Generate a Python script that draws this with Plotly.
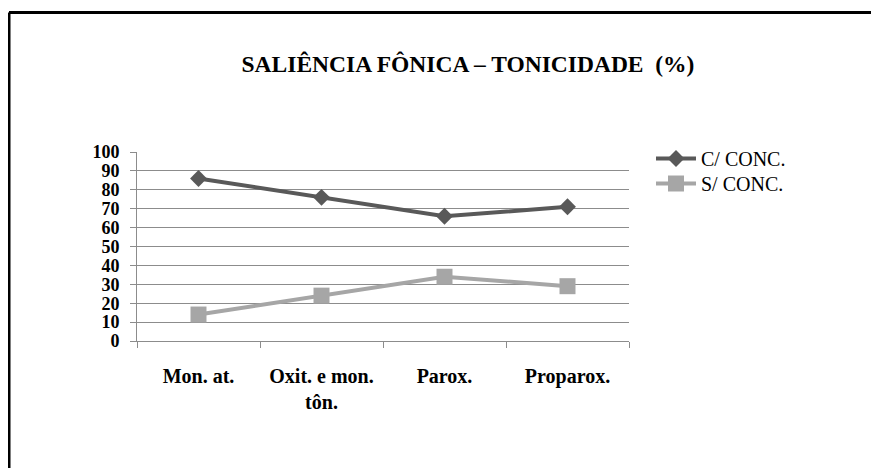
import plotly.graph_objects as go

categories = ["Mon. at.", "Oxit. e mon.<br>tôn.", "Parox.", "Proparox."]
com_conc = [86, 76, 66, 71]
sem_conc = [14, 24, 34, 29]
y_ticks = list(range(0, 101, 10))

serif = "Liberation Serif, Times New Roman, serif"

fig = go.Figure()

fig.add_trace(
    go.Scatter(
        x=categories,
        y=com_conc,
        mode="lines+markers",
        name="C/ CONC.",
        line=dict(color="#595959", width=4),
        marker=dict(symbol="diamond", size=13, color="#595959"),
        legend="legend",
    )
)

fig.add_trace(
    go.Scatter(
        x=categories,
        y=sem_conc,
        mode="lines+markers",
        name="S/ CONC.",
        line=dict(color="#a6a6a6", width=4),
        marker=dict(symbol="square", size=16, color="#a6a6a6"),
        legend="legend2",
    )
)

# page body has an 8px margin, so positions below are reference pixels - 8
W, H = 879, 468
L, R, T, B = 129, 621, 144, 333


def px(x):
    return (x - L) / (R - L)


def py(y):
    return (B - y) / (B - T)


def legend_box(top):
    return dict(
        x=px(643),
        y=py(top),
        xanchor="left",
        yanchor="top",
        font=dict(family=serif, size=20, color="black"),
        bgcolor="rgba(0,0,0,0)",
        itemwidth=40,
    )


fig.update_layout(
    width=W,
    height=H,
    margin=dict(l=L, r=W - R, t=T, b=H - B),
    paper_bgcolor="white",
    plot_bgcolor="white",
    font=dict(family=serif, color="black"),
    title=dict(
        text="<b>SALIÊNCIA FÔNICA – TONICIDADE  (%)</b>",
        font=dict(family=serif, size=23.5, color="black"),
        x=460 / W,
        xanchor="center",
        xref="container",
        y=1 - 56 / H,
        yanchor="middle",
        yref="container",
    ),
    legend=legend_box(131),
    legend2=legend_box(156),
    showlegend=True,
    xaxis=dict(
        type="category",
        range=[-0.5, 3.5],
        showgrid=False,
        showline=True,
        linecolor="#8c8c8c",
        linewidth=1,
        ticks="outside",
        tickson="boundaries",
        ticklen=6,
        tickcolor="#8c8c8c",
        ticklabelstandoff=17,
        tickfont=dict(family=serif, size=20, color="black", weight="bold"),
    ),
    yaxis=dict(
        range=[0, 100],
        tickvals=y_ticks,
        showgrid=True,
        gridcolor="#8c8c8c",
        gridwidth=1,
        showline=True,
        linecolor="#8c8c8c",
        linewidth=1,
        ticks="outside",
        ticklen=6,
        tickcolor="#8c8c8c",
        ticklabelstandoff=7,
        zeroline=False,
        tickfont=dict(family=serif, size=18, color="black", weight="bold"),
    ),
)

# black frame around the chart (only left and top edges fall inside the image)
fx0 = px(1)
fy1 = py(4.5)
fig.add_shape(type="line", xref="paper", yref="paper",
              x0=fx0, x1=fx0, y0=py(500), y1=fy1,
              line=dict(color="black", width=3))
fig.add_shape(type="line", xref="paper", yref="paper",
              x0=fx0, x1=px(900), y0=fy1, y1=fy1,
              line=dict(color="black", width=3))

fig.write_html("out.html")
